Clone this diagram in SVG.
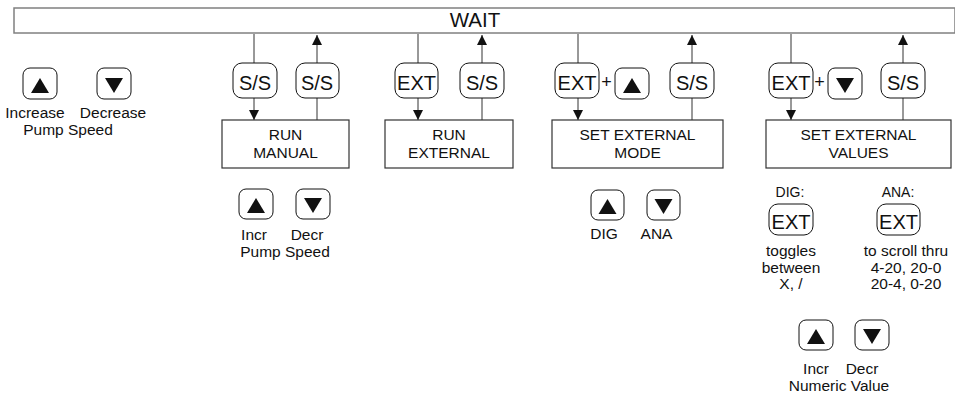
<svg xmlns="http://www.w3.org/2000/svg" width="955" height="402" viewBox="0 0 955 402">
<style>
text{font-family:"Liberation Sans",Arial,sans-serif;fill:#111;}
.lbl{font-size:15.5px;text-anchor:middle;}
.key{font-size:20px;text-anchor:middle;}
.plus{font-size:18px;text-anchor:middle;}
.btn{fill:#fff;stroke:#111;stroke-width:1;}
.box{fill:#fff;stroke:#333;stroke-width:1.2;}
.tri{fill:#111;}
.con{stroke:#333;stroke-width:1;fill:none;}
</style>
<defs>
<marker id="ah" markerUnits="userSpaceOnUse" markerWidth="10" markerHeight="10" refX="10" refY="5" orient="auto">
<path d="M0,0 L10,5 L0,10 z" fill="#111"/>
</marker>
</defs>
<g id="wait">
<rect x="14" y="8" width="941" height="25" fill="#fff" stroke="#808080" stroke-width="1.5"/>
<text x="475" y="27" style="font-size:20.5px;text-anchor:middle">WAIT</text>
</g>
<g id="connectors">
<line class="con" x1="254" y1="34" x2="254" y2="63"/>
<line class="con" x1="254" y1="98" x2="254" y2="120" marker-end="url(#ah)"/>
<line class="con" x1="317" y1="120" x2="317" y2="98"/>
<line class="con" x1="317" y1="63" x2="317" y2="35" marker-end="url(#ah)"/>
<line class="con" x1="418" y1="34" x2="418" y2="63"/>
<line class="con" x1="418" y1="98" x2="418" y2="120" marker-end="url(#ah)"/>
<line class="con" x1="482" y1="120" x2="482" y2="98"/>
<line class="con" x1="482" y1="63" x2="482" y2="35" marker-end="url(#ah)"/>
<line class="con" x1="578" y1="34" x2="578" y2="63"/>
<line class="con" x1="578" y1="98" x2="578" y2="120" marker-end="url(#ah)"/>
<line class="con" x1="692" y1="120" x2="692" y2="98"/>
<line class="con" x1="692" y1="63" x2="692" y2="35" marker-end="url(#ah)"/>
<line class="con" x1="791" y1="34" x2="791" y2="63"/>
<line class="con" x1="791" y1="98" x2="791" y2="120" marker-end="url(#ah)"/>
<line class="con" x1="903" y1="120" x2="903" y2="98"/>
<line class="con" x1="903" y1="63" x2="903" y2="35" marker-end="url(#ah)"/>
</g>
<g id="pump-speed-keys">
<rect class="btn" x="23" y="68" width="34" height="31" rx="7"/>
<path class="tri" d="M40,78 L49,93 L31,93 z"/>
<rect class="btn" x="97" y="68" width="34" height="31" rx="7"/>
<path class="tri" d="M105,78 L123,78 L114,93 z"/>
<text class="lbl" x="35" y="118">Increase</text>
<text class="lbl" x="113" y="118">Decrease</text>
<text class="lbl" x="68" y="135">Pump Speed</text>
</g>
<g id="run-manual">
<rect class="btn" x="233" y="63" width="44" height="35" rx="9"/>
<text class="key" x="255" y="90">S/S</text>
<rect class="btn" x="296" y="63" width="43" height="35" rx="9"/>
<text class="key" x="317" y="90">S/S</text>
<rect class="box" x="222" y="120" width="127" height="48"/>
<text class="lbl" x="285.5" y="140">RUN</text>
<text class="lbl" x="285.5" y="158">MANUAL</text>
<rect class="btn" x="239" y="189" width="34" height="30" rx="7"/>
<path class="tri" d="M256,198 L265,213 L247,213 z"/>
<rect class="btn" x="296" y="189" width="34" height="30" rx="7"/>
<path class="tri" d="M304,198 L322,198 L313,213 z"/>
<text class="lbl" x="254" y="240">Incr</text>
<text class="lbl" x="307" y="240">Decr</text>
<text class="lbl" x="285" y="257">Pump Speed</text>
</g>
<g id="run-external">
<rect class="btn" x="395" y="63" width="43" height="35" rx="9"/>
<text class="key" x="416.5" y="90">EXT</text>
<rect class="btn" x="460" y="63" width="44" height="35" rx="9"/>
<text class="key" x="482" y="90">S/S</text>
<rect class="box" x="385" y="120" width="128" height="48"/>
<text class="lbl" x="449" y="140">RUN</text>
<text class="lbl" x="449" y="158">EXTERNAL</text>
</g>
<g id="set-external-mode">
<rect class="btn" x="555" y="63" width="44" height="35" rx="9"/>
<text class="key" x="577" y="90">EXT</text>
<text class="plus" x="606.5" y="88">+</text>
<rect class="btn" x="615" y="68" width="34" height="31" rx="7"/>
<path class="tri" d="M632,78 L641,93 L623,93 z"/>
<rect class="btn" x="670" y="63" width="44" height="35" rx="9"/>
<text class="key" x="692" y="90">S/S</text>
<rect class="box" x="552" y="120" width="171" height="48"/>
<text class="lbl" x="637.5" y="140">SET EXTERNAL</text>
<text class="lbl" x="637.5" y="158">MODE</text>
<rect class="btn" x="591" y="190" width="33" height="30" rx="7"/>
<path class="tri" d="M607.5,199 L616.5,214 L598.5,214 z"/>
<rect class="btn" x="647" y="190" width="33" height="30" rx="7"/>
<path class="tri" d="M654.5,199 L672.5,199 L663.5,214 z"/>
<text class="lbl" x="604" y="239">DIG</text>
<text class="lbl" x="656.5" y="239">ANA</text>
</g>
<g id="set-external-values">
<rect class="btn" x="769" y="63" width="44" height="35" rx="9"/>
<text class="key" x="791" y="90">EXT</text>
<text class="plus" x="819.5" y="88">+</text>
<rect class="btn" x="828" y="68" width="34" height="31" rx="7"/>
<path class="tri" d="M836,78 L854,78 L845,93 z"/>
<rect class="btn" x="881" y="63" width="44" height="35" rx="9"/>
<text class="key" x="903" y="90">S/S</text>
<rect class="box" x="766" y="120" width="185" height="48"/>
<text class="lbl" x="858.5" y="140">SET EXTERNAL</text>
<text class="lbl" x="858.5" y="158">VALUES</text>
<text class="lbl" x="790" y="197" style="font-size:14px">DIG:</text>
<text class="lbl" x="898" y="197" style="font-size:14px">ANA:</text>
<rect class="btn" x="769" y="204" width="44" height="31" rx="9"/>
<text class="key" x="791" y="229">EXT</text>
<rect class="btn" x="877" y="204" width="43" height="31" rx="9"/>
<text class="key" x="898.5" y="229">EXT</text>
<text class="lbl" x="791" y="256">toggles</text>
<text class="lbl" x="791" y="273">between</text>
<text class="lbl" x="791" y="289">X, /</text>
<text class="lbl" x="906" y="256">to scroll thru</text>
<text class="lbl" x="906" y="273">4-20, 20-0</text>
<text class="lbl" x="906" y="289">20-4, 0-20</text>
<rect class="btn" x="799" y="320" width="34" height="30" rx="7"/>
<path class="tri" d="M816,329 L825,344 L807,344 z"/>
<rect class="btn" x="855" y="320" width="34" height="30" rx="7"/>
<path class="tri" d="M863,329 L881,329 L872,344 z"/>
<text class="lbl" x="816" y="374">Incr</text>
<text class="lbl" x="862" y="374">Decr</text>
<text class="lbl" x="839" y="391">Numeric Value</text>
</g>
</svg>
